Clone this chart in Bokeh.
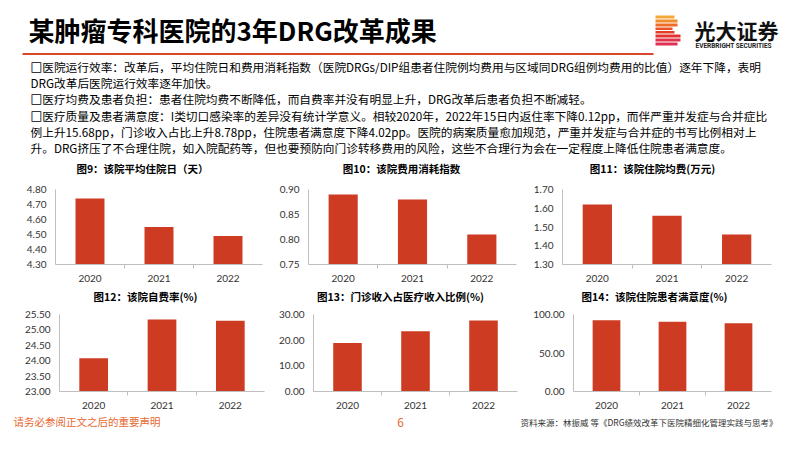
from bokeh.plotting import figure
from bokeh.layouts import column, row
from bokeh.models import Range1d, FixedTicker, NumeralTickFormatter
from bokeh.core.properties import value
from bokeh.embed import file_html
from bokeh.resources import INLINE

# ---------------- data ----------------
years = ["2020", "2021", "2022"]
stay_days = [4.74, 4.55, 4.49]
cost_index = [0.89, 0.88, 0.81]
avg_cost = [1.62, 1.56, 1.46]
self_pay = [24.08, 25.34, 25.30]
outpatient_share = [18.85, 23.50, 27.63]
satisfaction = [92.60, 90.50, 88.58]

ticks_stay = [4.30, 4.40, 4.50, 4.60, 4.70, 4.80]
ticks_cost_index = [0.75, 0.80, 0.85, 0.90]
ticks_avg_cost = [1.30, 1.40, 1.50, 1.60, 1.70]
ticks_self_pay = [23.00, 23.50, 24.00, 24.50, 25.00, 25.50]
ticks_outpatient = [0.00, 10.00, 20.00, 30.00]
ticks_satisfaction = [0.00, 50.00, 100.00]

chart_titles_top = ["图9：该院平均住院日（天）", "图10：该院费用消耗指数", "图11：该院住院均费(万元)"]
chart_titles_bottom = ["图12：该院自费率(%)", "图13：门诊收入占医疗收入比例(%)", "图14：该院住院患者满意度(%)"]

page_title = "某肿瘤专科医院的3年DRG改革成果"
body_lines = [
    "□医院运行效率：改革后，平均住院日和费用消耗指数（医院DRGs/DIP组患者住院例均费用与区域同DRG组例均费用的比值）逐年下降，表明",
    "DRG改革后医院运行效率逐年加快。",
    "□医疗均费及患者负担：患者住院均费不断降低，而自费率并没有明显上升，DRG改革后患者负担不断减轻。",
    "□医疗质量及患者满意度：I类切口感染率的差异没有统计学意义。相较2020年，2022年15日内返住率下降0.12pp，而伴严重并发症与合并症比",
    "例上升15.68pp，门诊收入占比上升8.78pp，住院患者满意度下降4.02pp。医院的病案质量愈加规范，严重并发症与合并症的书写比例相对上",
    "升。DRG挤压了不合理住院，如入院配药等，但也要预防向门诊转移费用的风险，这些不合理行为会在一定程度上降低住院患者满意度。",
]
footer_left = "请务必参阅正文之后的重要声明"
footer_page = "6"
footer_source = "资料来源：林振威 等《DRG绩效改革下医院精细化管理实践与思考》"

CJK = value("Noto Sans CJK SC")
NUM_FONT = "Lato"
BAR = "#cd3b22"
AXIS = "#bfbfbf"
W = 802


def strip(y0, y1):
    p = figure(width=W, height=y1 - y0, x_range=Range1d(0, W), y_range=Range1d(y1, y0),
               output_backend="svg", toolbar_location=None, x_axis_type=None, y_axis_type=None,
               min_border=0)
    p.xgrid.visible = False
    p.ygrid.visible = False
    p.outline_line_color = None
    p.background_fill_color = "white"
    p.border_fill_color = "white"
    return p


def make_chart(vals, ticks, w, h, bl, br, bt, bb):
    n = len(years)
    p = figure(width=w, height=h, x_range=Range1d(-0.5, n - 0.5), y_range=Range1d(ticks[0], ticks[-1]),
               output_backend="svg", toolbar_location=None,
               min_border_left=bl, min_border_right=br, min_border_top=bt, min_border_bottom=bb)
    centers = list(range(n))
    p.vbar(x=centers, top=vals, bottom=ticks[0], width=0.42, fill_color=BAR, line_color=None)
    p.xgrid.visible = False
    p.ygrid.visible = False
    p.outline_line_color = None
    p.xaxis.ticker = FixedTicker(ticks=centers, minor_ticks=[i + 0.5 for i in range(n - 1)])
    p.xaxis.major_label_overrides = {c: y for c, y in zip(centers, years)}
    p.xaxis.major_tick_out = 0
    p.xaxis.major_tick_in = 0
    p.xaxis.minor_tick_out = 4
    p.xaxis.minor_tick_in = 0
    p.xaxis.minor_tick_line_color = AXIS
    p.xaxis.axis_line_color = AXIS
    p.xaxis.major_label_standoff = 6
    p.yaxis.ticker = FixedTicker(ticks=ticks, minor_ticks=[])
    p.yaxis.formatter = NumeralTickFormatter(format="0.00")
    p.yaxis.major_tick_out = 0
    p.yaxis.major_tick_in = 0
    p.yaxis.minor_tick_line_color = None
    p.yaxis.axis_line_color = AXIS
    p.yaxis.major_label_standoff = 9
    for ax in (p.xaxis, p.yaxis):
        ax.major_label_text_font = NUM_FONT
        ax.major_label_text_font_size = "10px"
        ax.major_label_text_color = "#333333"
    return p


# ---------------- header ----------------
head = strip(0, 180)
head.text(x=[28], y=[29], text=[page_title], text_font=CJK, text_font_size="26px",
          text_font_style="bold", text_baseline="middle", text_color="#000000")
head.segment(x0=[22], y0=[53.5], x1=[653], y1=[53.5], line_color="#d7472a", line_width=2)

# logo stripes
logo = [(15, 18, 674, "#f5a93a"), (19, 22, 677, "#f18c2c"), (23, 26, 677, "#ed6c26"),
        (27, 29.5, 672, "#e85226"), (30.5, 33, 674, "#e53c29"), (34, 37, 680, "#e2322f"),
        (38, 41, 680, "#e0324a"), (42, 45, 677, "#df3152")]
head.quad(left=[655] * len(logo), right=[s[2] for s in logo], top=[s[0] for s in logo],
          bottom=[s[1] for s in logo], fill_color=[s[3] for s in logo], line_color=None)
head.text(x=[694], y=[29], text=["光大证券"], text_font=CJK, text_font_size="21px",
          text_font_style="bold", text_baseline="middle", text_color="#111111")
head.text(x=[695], y=[45], text=["EVERBRIGHT SECURITIES"], text_font=value("Roboto"), text_font_size="6.5px",
          text_font_style="bold", text_baseline="middle", text_color="#222222")

line_y = [66, 82, 98, 115, 131, 147]
head.text(x=[30] * len(body_lines), y=line_y, text=body_lines, text_font=CJK, text_font_size="11.7px",
          text_baseline="middle", text_color="#000000")
# bolder bullet boxes
bullet_y = [y for y, t in zip(line_y, body_lines) if t.startswith("□")]
head.text(x=[30] * len(bullet_y), y=bullet_y, text=["□"] * len(bullet_y), text_font=CJK,
          text_font_size="11.7px", text_font_style="bold", text_baseline="middle", text_color="#000000")

head.text(x=[142, 401, 652], y=[168] * 3, text=chart_titles_top, text_font=CJK, text_font_size="10.5px",
          text_font_style="bold", text_align="center", text_baseline="middle", text_color="#000000")

# ---------------- charts row 1 ----------------
c1 = make_chart(stay_days, ticks_stay, 265, 107, 55, 3, 9, 23)
c2 = make_chart(cost_index, ticks_cost_index, 265, 107, 43, 14, 9, 23)
c3 = make_chart(avg_cost, ticks_avg_cost, 272, 107, 31, 31, 9, 23)

mid = strip(287, 305)
mid.text(x=[145, 400, 654], y=[296] * 3, text=chart_titles_bottom, text_font=CJK, text_font_size="10.5px",
         text_font_style="bold", text_align="center", text_baseline="middle", text_color="#000000")

# ---------------- charts row 2 ----------------
c4 = make_chart(self_pay, ticks_self_pay, 265, 107, 59, 1, 9, 21)
c5 = make_chart(outpatient_share, ticks_outpatient, 265, 107, 48, 13, 9, 21)
c6 = make_chart(satisfaction, ticks_satisfaction, 272, 107, 41, 31, 9, 21)

# ---------------- footer ----------------
foot = strip(412, 451)
foot.text(x=[13], y=[421], text=[footer_left], text_font=CJK, text_font_size="10.5px",
          text_baseline="middle", text_color="#e8672f")
foot.text(x=[400], y=[422], text=[footer_page], text_font=CJK, text_font_size="12px",
          text_align="center", text_baseline="middle", text_color="#e8672f")
foot.text(x=[520], y=[421], text=[footer_source], text_font=CJK, text_font_size="8.5px",
          text_baseline="middle", text_color="#333333")

layout = column(head, row(c1, c2, c3, spacing=0), mid, row(c4, c5, c6, spacing=0), foot, spacing=0)

with open("out.html", "w") as f:
    f.write(file_html(layout, INLINE))
